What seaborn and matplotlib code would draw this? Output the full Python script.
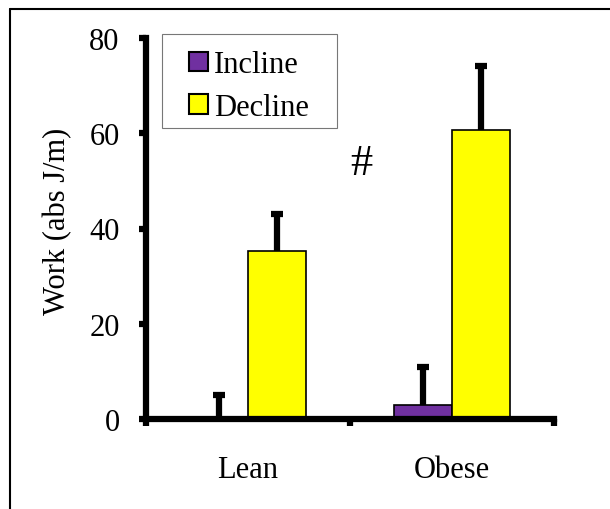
import matplotlib
matplotlib.use("Agg")
import matplotlib.pyplot as plt
import seaborn as sns
import pandas as pd
import numpy as np
from matplotlib.patches import Rectangle, Patch
from matplotlib.lines import Line2D

groups = ["Lean", "Lean", "Obese", "Obese"]
conditions = ["Incline", "Decline", "Incline", "Decline"]
work = [0.0, 35.2, 3.0, 60.6]
err_upper = [5.1, 7.9, 7.9, 13.5]
yticks = [0, 20, 40, 60, 80]
palette = {"Incline": "#7030A0", "Decline": "#FFFF00"}

df = pd.DataFrame({"group": groups, "condition": conditions, "work": work})

sns.set_style("white")
plt.rcParams["font.family"] = ["Liberation Serif", "DejaVu Serif"]
plt.rcParams["text.color"] = "black"
plt.rcParams["xtick.color"] = "black"
plt.rcParams["ytick.color"] = "black"
plt.rcParams["axes.labelcolor"] = "black"

fig = plt.figure(figsize=(6.1, 5.1), dpi=100)
ax = fig.add_axes([146/610, 1-420/510, (554-146)/610, (420-39)/510])

sns.barplot(data=df, x="group", y="work", hue="condition", palette=palette,
            width=0.57, edgecolor="black", linewidth=1.2, ax=ax, legend=False,
            errorbar=None, saturation=1)

# error bars (upper only) at the bar centres produced by seaborn
patches = [p for p in ax.patches if isinstance(p, Rectangle)]
xs = sorted([(p.get_x() + p.get_width()/2) for p in patches])
eb = ax.errorbar(xs, work, yerr=[np.zeros(len(work)), err_upper], fmt="none",
                 ecolor="black", elinewidth=4.5, capsize=4.5, capthick=4.5, zorder=1)
caplines = eb[1]
if len(caplines) == 2:
    caplines[0].remove()
for p in patches:
    p.set_zorder(2)

ax.set_xlim(-0.5, 1.5)
ax.set_ylim(0, 80)
ax.set_yticks(yticks)
ax.set_yticklabels([str(v) for v in yticks], fontsize=22)
ax.set_xticks([-0.5, 0.5, 1.5])
ax.set_xticklabels([])
ax.set_xticks([0, 1], minor=True)
ax.set_xticklabels(["Lean", "Obese"], minor=True, fontsize=22)
ax.tick_params(axis="x", which="minor", bottom=True, length=0, pad=26)
ax.tick_params(axis="x", which="major", bottom=True, direction="out", length=5, width=4.5, color="black")
ax.tick_params(axis="y", left=True, direction="out", length=5, width=4.5, color="black", pad=14)
ax.set_xlabel("")
ax.set_ylabel("Work (abs J/m)", fontsize=22)
ax.yaxis.set_label_coords(-0.181, 0.522)

for s in ["top", "right"]:
    ax.spines[s].set_visible(False)
for s in ["left", "bottom"]:
    ax.spines[s].set_linewidth(4.5)
    ax.spines[s].set_color("black")
    ax.spines[s].set_capstyle("projecting")

ax.text(0.556, 53.7, "#", fontsize=32, ha="center", va="center")

# legend (frame drawn separately)
handles = [Patch(facecolor=palette[c], edgecolor="black", linewidth=1.5) for c in ["Incline", "Decline"]]
leg = ax.legend(handles, ["Incline", "Decline"], loc="upper left",
                bbox_to_anchor=((189-146)/408 - 0.022, 0.992), borderaxespad=0, fontsize=22,
                frameon=False,
                handlelength=0.6, handleheight=0.6, handletextpad=0.2,
                labelspacing=0.45, borderpad=0.3)
fig.patches.append(Rectangle((162/610, 1-129/510), (337-162)/610, (129-35)/510,
                             transform=fig.transFigure, fill=False,
                             edgecolor="#777777", linewidth=0.8, zorder=5))

# outer frame (top and left edges visible)
fig.add_artist(Line2D([10/610, 1.0], [1-10/510, 1-10/510], transform=fig.transFigure,
                      color="black", linewidth=1.5))
fig.add_artist(Line2D([10/610, 10/610], [0.0, 1-10/510], transform=fig.transFigure,
                      color="black", linewidth=1.5))

fig.savefig("out.png", dpi=100, facecolor="white")
